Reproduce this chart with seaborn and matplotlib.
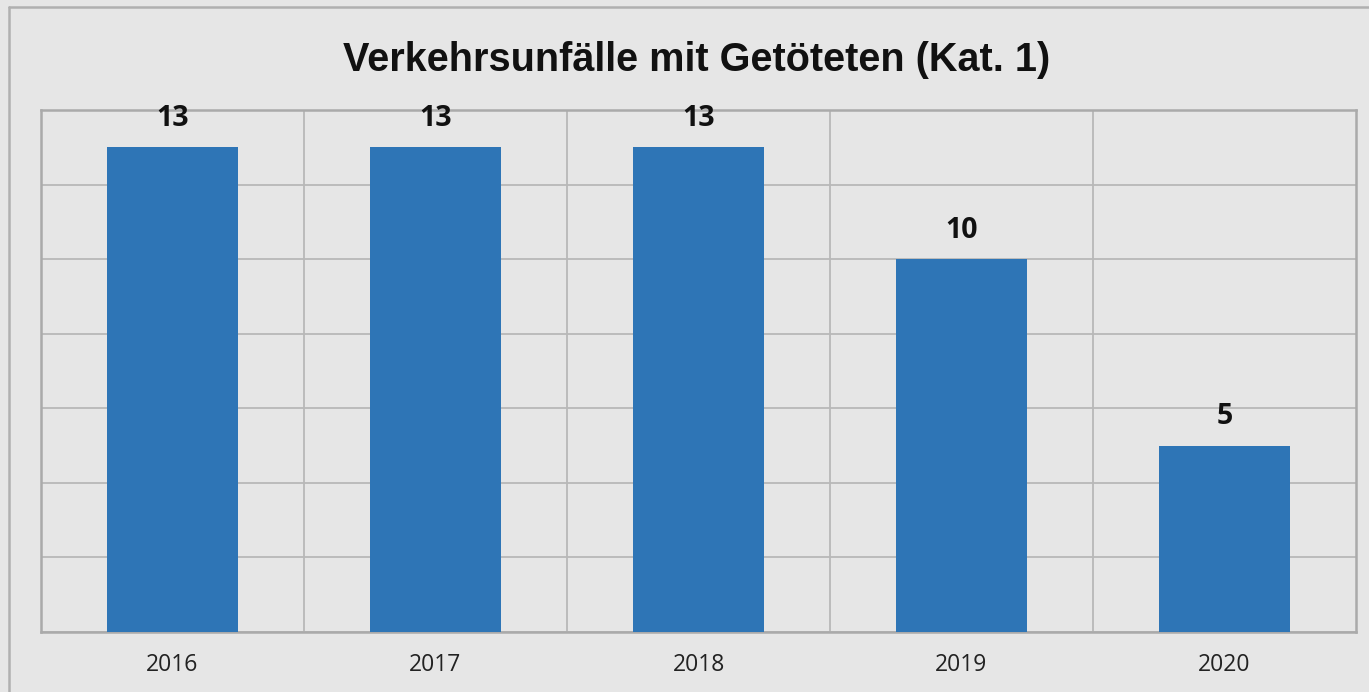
import numpy as np
import pandas as pd
import matplotlib
matplotlib.use('Agg')
import matplotlib.pyplot as plt
import seaborn as sns
from matplotlib.lines import Line2D
from matplotlib import font_manager as fm

years = ['2016', '2017', '2018', '2019', '2020']
values = [13, 13, 13, 10, 5]
title = 'Verkehrsunfälle mit Getöteten (Kat. 1)'

bg = '#e6e6e6'
bar_color = '#2e75b6'
grid_color = '#b8b8b8'

sns.set_theme(style='white')
plt.rcParams['font.family'] = ['Open Sans', 'DejaVu Sans']

# Arial-like bold for the title, avoid the Narrow variant
title_font = None
for f in fm.fontManager.ttflist:
    if f.name == 'Liberation Sans' and f.weight in (700, 'bold') and 'Narrow' not in f.fname \
            and f.style == 'normal':
        title_font = fm.FontProperties(fname=f.fname, size=28.5)
        break
if title_font is None:
    title_font = fm.FontProperties(family='DejaVu Sans', weight='bold', size=26)

df = pd.DataFrame({'year': years, 'value': values})

fig = plt.figure(figsize=(13.69, 6.92), dpi=100, facecolor=bg)
ax = fig.add_axes([41 / 1369, 1 - 632 / 692, (1356 - 41) / 1369, (632 - 110) / 692])
ax.set_facecolor(bg)

sns.barplot(data=df, x='year', y='value', color=bar_color, width=0.5,
            saturation=1, linewidth=0, ax=ax, zorder=3)

ax.set_ylim(0, 14)
ax.set_xlim(-0.5, len(years) - 0.5)
ax.set_yticks(np.arange(0, 15, 2))
ax.set_yticklabels([])
ax.tick_params(axis='y', length=0)
ax.tick_params(axis='x', length=0, labelsize=16.5, pad=15, colors='#222222')
ax.set_xlabel('')
ax.set_ylabel('')

# horizontal grid + vertical category separators
ax.yaxis.grid(True, color=grid_color, linewidth=1.3, zorder=0)
for x in np.arange(0.5, len(years) - 0.5, 1):
    ax.axvline(x, color=grid_color, linewidth=1.3, zorder=0)

for s in ax.spines.values():
    s.set_visible(True)
    s.set_color('#aaaaaa')
    s.set_linewidth(1.8)

for i, v in enumerate(values):
    ax.annotate(str(v), (i, v), xytext=(0, 15.5), textcoords='offset points',
                ha='center', va='baseline', fontsize=20.5, fontweight='bold',
                color='#111111')

fig.text(697 / 1369, 1 - 60 / 692, title, ha='center', va='center',
         fontproperties=title_font, color='#111111')

# outer frame (top and left edges visible)
fig.add_artist(Line2D([9 / 1369, 1], [1 - 7 / 692, 1 - 7 / 692], transform=fig.transFigure,
                      color='#b0b0b0', linewidth=1.8))
fig.add_artist(Line2D([9 / 1369, 9 / 1369], [0, 1 - 7 / 692], transform=fig.transFigure,
                      color='#b0b0b0', linewidth=1.8))

fig.savefig('out.png', dpi=100, facecolor=bg)
